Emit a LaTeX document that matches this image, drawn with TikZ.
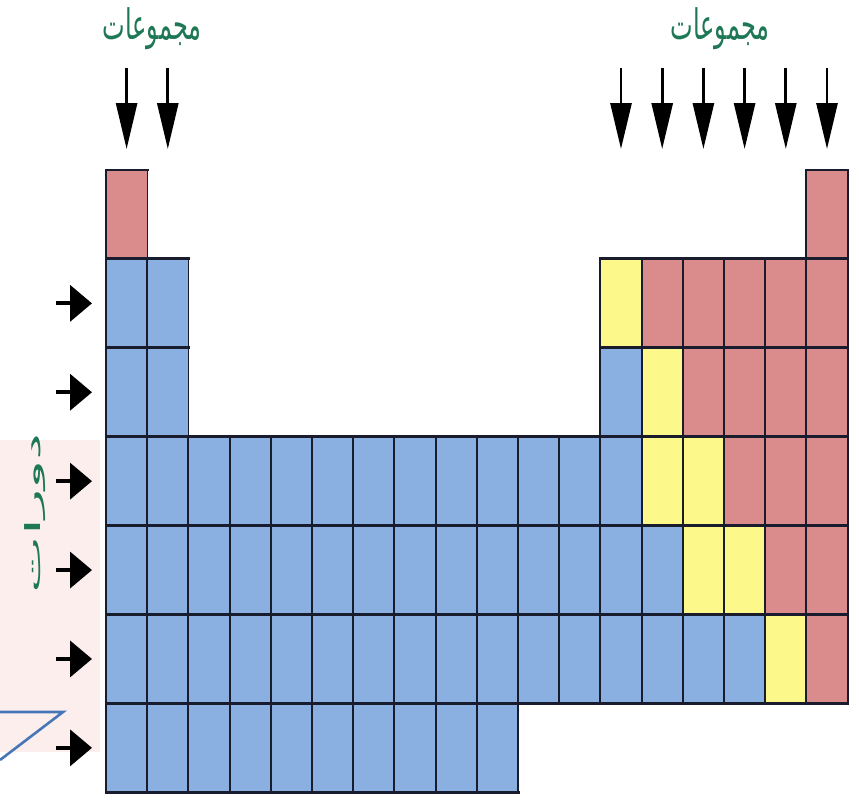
\documentclass[tikz,border=0pt]{standalone}
\usepackage{fontspec}
\usetikzlibrary{arrows.meta}
\TeXXeTstate=1
\newfontfamily\arabicfont[Script=Arabic]{DejaVu Sans}
\definecolor{cblue}{RGB}{138,176,226}
\definecolor{cpink}{RGB}{218,140,140}
\definecolor{cyel}{RGB}{252,248,138}
\definecolor{cgrid}{RGB}{24,28,44}
\definecolor{cgreen}{RGB}{30,120,85}
\definecolor{wpink}{RGB}{253,238,238}
\definecolor{wblue}{RGB}{70,118,184}
\tikzset{
  cell/.style={draw=none, inner sep=0pt, minimum width=41.2pt, minimum height=88.9pt},
  hline/.style={draw=cgrid, line width=2.6pt, line cap=rect},
  vline/.style={draw=cgrid, line width=1.5pt},
  downarrow/.style={draw=black, fill=black, line width=2.8pt, -{Triangle[length=46pt,width=21pt]}},
  rightarrow/.style={draw=black, fill=black, line width=4pt, -{Triangle[length=22pt,width=36pt]}},
  lbl/.style={text=cgreen, inner sep=0pt, font=\arabicfont\fontsize{24}{26}\selectfont},
}
\newcommand{\cellat}[4]{% row, col, colour, name
  \node[cell, fill=#3] (#4) at ({106+(#2-0.5)*41.2}, {170+(#1-0.5)*88.9}) {};
}
\begin{document}
\begin{tikzpicture}[x=1pt, y=-1pt]
\useasboundingbox (0,0) rectangle (859,800);
% faint background marks
\fill[wpink] (0,440) rectangle (100,752);
\draw[wblue, line width=2.6pt] (0,712) coordinate (wa) -- (63,712) coordinate (wb) -- (0,760) coordinate (wc);
% cells
\foreach \r/\c/\col in {1/1/cpink,1/18/cpink,
  2/1/cblue,2/2/cblue,2/13/cyel,2/14/cpink,2/15/cpink,2/16/cpink,2/17/cpink,2/18/cpink,
  3/1/cblue,3/2/cblue,3/13/cblue,3/14/cyel,3/15/cpink,3/16/cpink,3/17/cpink,3/18/cpink,
  4/13/cblue,4/14/cyel,4/15/cyel,4/16/cpink,4/17/cpink,4/18/cpink,
  5/13/cblue,5/14/cblue,5/15/cyel,5/16/cyel,5/17/cpink,5/18/cpink,
  6/13/cblue,6/14/cblue,6/15/cblue,6/16/cblue,6/17/cyel,6/18/cpink}{
  \cellat{\r}{\c}{\col}{c\r-\c}
}
\foreach \r in {4,5,6}{
  \foreach \c in {1,...,12}{ \cellat{\r}{\c}{cblue}{c\r-\c} }
}
\foreach \c in {1,...,10}{ \cellat{7}{\c}{cblue}{c7-\c} }
% grid lines: vertical first, then horizontal
\foreach \r/\a/\b in {1/1/1,1/18/18,2/1/2,2/13/18,3/1/2,3/13/18,4/1/18,5/1/18,6/1/18,7/1/10}{
  \foreach \c in {\a,...,\b}{
    \draw[vline] (c\r-\c.north west) -- (c\r-\c.south west);
    \draw[vline] (c\r-\c.north east) -- (c\r-\c.south east);
  }
}
\foreach \r/\a/\b in {1/1/1,1/18/18,2/1/2,2/13/18,3/1/2,3/13/18,4/1/18,5/1/18,6/1/18,7/1/10}{
  \foreach \c in {\a,...,\b}{
    \draw[hline] (c\r-\c.north west) -- (c\r-\c.north east);
    \draw[hline] (c\r-\c.south west) -- (c\r-\c.south east);
  }
}
% group labels
\node[lbl] (gl) at (152,29) {\scalebox{1}[1.75]{\beginR مجموعات\endR}};
\node[lbl] (gr) at (720,29) {\scalebox{1}[1.75]{\beginR مجموعات\endR}};
% period label
\node[lbl, font=\arabicfont\fontsize{21}{23}\selectfont] (pl) at (35,513) {\rotatebox{90}{\scalebox{2.9}[1]{\beginR دورات\endR}}};
% group arrows
\foreach \c in {1,2,13,14,15,16,17,18}{
  \coordinate (ts\c) at ({106+(\c-0.5)*41.2}, 68);
  \coordinate (te\c) at ({106+(\c-0.5)*41.2}, 149);
  \draw[downarrow] (ts\c) -- (te\c);
}
% period arrows
\foreach \r in {2,...,7}{
  \coordinate (ls\r) at (56, {170+(\r-0.5)*88.9});
  \coordinate (le\r) at (92, {170+(\r-0.5)*88.9});
  \draw[rightarrow] (ls\r) -- (le\r);
}
\end{tikzpicture}
\end{document}
